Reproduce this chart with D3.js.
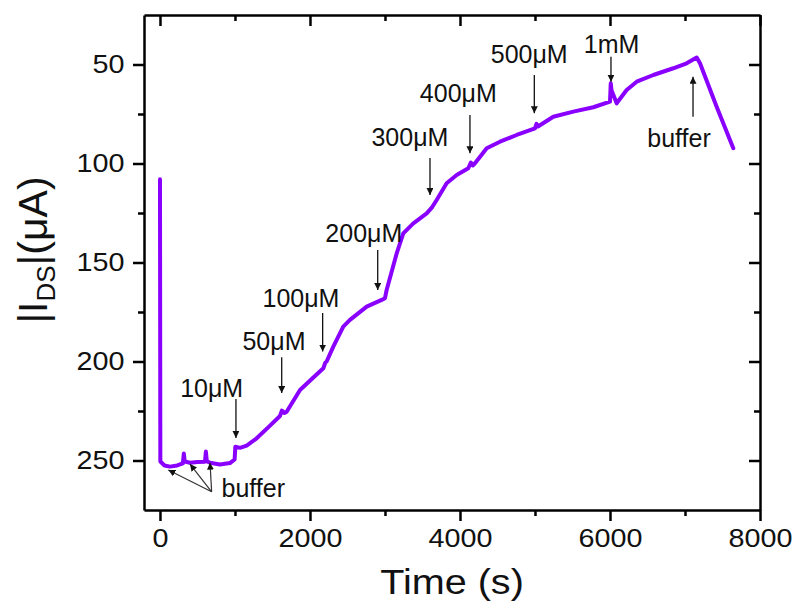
<!DOCTYPE html>
<html>
<head>
<meta charset="utf-8">
<script src="https://cdn.jsdelivr.net/npm/d3@7"></script>
<style>
  body { margin: 0; background: #fff; }
  text { font-family: "Liberation Sans", Arial, sans-serif; }
</style>
</head>
<body>
<svg id="chart" width="796" height="605"></svg>
<script>
// time (s) and |I_DS| (uA)
const times = [0, 5, 60, 133, 230, 305, 318, 330, 400, 500, 600, 612, 625, 667, 800, 933, 995, 1005,
  1067, 1156, 1289, 1450, 1600, 1625, 1660, 1689, 1867, 2020, 2178, 2205, 2222, 2311, 2444, 2533,
  2756, 2956, 3000, 3022, 3156, 3244, 3378, 3556, 3630, 3689, 3822, 3956, 4111, 4145, 4170, 4200,
  4356, 4533, 4756, 5000, 5020, 5040, 5244, 5511, 5778, 6000, 6010, 6020, 6089, 6222, 6356, 6578,
  6844, 7022, 7156, 7200, 7422, 7644];
const current = [108, 250.5, 252.5, 253.1, 252.5, 251.5, 246.5, 250.5, 251.1, 250.8, 250.6, 245.5, 250.5, 251.1, 252, 251.3, 249.5, 243,
  243.6, 242.5, 238.8, 233, 227.5, 224.8, 226, 225.4, 214.4, 209, 203.4, 200.5, 200, 192.5, 182.4, 179,
  172.3, 168.9, 168, 163.9, 145.4, 135.3, 130.2, 125.2, 122, 118.4, 110, 105.8, 102.4, 99.5, 101, 99.9,
  92.3, 89, 85.6, 82.2, 80, 81.3, 76.4, 73.8, 71.6, 68.8, 59.5, 63, 69.6, 62.9, 58.7, 55.3,
  51.9, 49.4, 46.5, 49.4, 71.3, 92.3];

const xTicks = [0, 2000, 4000, 6000, 8000];
const xMinor = [1000, 3000, 5000, 7000];
const yTicks = [50, 100, 150, 200, 250];
const yMinor = [75, 125, 175, 225];

// concentration labels: text, label pos (t, I), arrow tail -> tip (t, I)
const labels = ["10\u03bcM", "50\u03bcM", "100\u03bcM", "200\u03bcM", "300\u03bcM", "400\u03bcM", "500\u03bcM", "1mM", "buffer"];
const labelT = [689, 1520, 1880, 2718, 3333, 3978, 4923, 6022, 6920];
const labelI = [217.9, 194.2, 172.5, 139.6, 91.2, 68.8, 49.4, 44.3, 91.5];
const arrowT = [1013, 1623, 2169, 2903, 3600, 4133, 4991, 6013, 7107];
const arrowFrom = [218.9, 197.9, 175.5, 143.7, 97.2, 75.5, 55.3, 46.1, 76.4];
const arrowTo = [238.6, 215.9, 195, 163.9, 115.9, 94.8, 74.6, 58.7, 56.2];

// the first "buffer" note with three arrows
const bufT = 1244, bufI = 268.4;
const bufTailT = 689, bufTailI = 265.8;
const bufTipT = [111, 400, 667];
const bufTipI = [254.8, 251.8, 251.1];

const svg = d3.select("#chart");
const L = 144, R = 760, T = 15, B = 510;

const x = d3.scaleLinear().domain([-213, 8000]).range([L, R]);
const y = d3.scaleLinear().domain([25, 275]).range([T, B]);

svg.append("defs").append("marker")
    .attr("id", "head")
    .attr("viewBox", "0 0 10 10")
    .attr("refX", 10).attr("refY", 5)
    .attr("markerWidth", 7).attr("markerHeight", 7)
    .attr("markerUnits", "userSpaceOnUse")
    .attr("orient", "auto")
  .append("path")
    .attr("d", "M0,0 L10,5 L0,10 Z")
    .attr("fill", "#111");

function styleAxis(g) {
    g.selectAll(".domain").attr("stroke", "#000").attr("stroke-width", 2.5);
    g.selectAll(".tick line").attr("stroke", "#000").attr("stroke-width", 2.5);
}

const fmt = d3.format("d");

// bottom
let gb = svg.append("g").attr("transform", `translate(0,${B})`)
    .call(d3.axisBottom(x).tickValues(xTicks).tickFormat(fmt).tickSize(11).tickSizeOuter(0).tickPadding(8));
styleAxis(gb);
gb.selectAll(".tick text").attr("font-size", 25).attr("fill", "#111").attr("transform", "scale(1.15,1)");
let gbm = svg.append("g").attr("transform", `translate(0,${B})`)
    .call(d3.axisBottom(x).tickValues(xMinor).tickSize(6).tickFormat(""));
gbm.select(".domain").remove();
styleAxis(gbm);

// left
let gl = svg.append("g").attr("transform", `translate(${L},0)`)
    .call(d3.axisLeft(y).tickValues(yTicks).tickFormat(fmt).tickSize(11).tickSizeOuter(0).tickPadding(6));
styleAxis(gl);
gl.selectAll(".tick text").attr("font-size", 25).attr("fill", "#111").attr("transform", "scale(1.15,1)");
let glm = svg.append("g").attr("transform", `translate(${L},0)`)
    .call(d3.axisLeft(y).tickValues(yMinor).tickSize(6).tickFormat(""));
glm.select(".domain").remove();
styleAxis(glm);

// top (ticks inward)
let gt = svg.append("g").attr("transform", `translate(0,${T})`)
    .call(d3.axisTop(x).tickValues(xTicks).tickSize(-11).tickSizeOuter(0).tickFormat(""));
styleAxis(gt);
let gtm = svg.append("g").attr("transform", `translate(0,${T})`)
    .call(d3.axisTop(x).tickValues(xMinor).tickSize(-6).tickFormat(""));
gtm.select(".domain").remove();
styleAxis(gtm);

// right (ticks inward)
let gr = svg.append("g").attr("transform", `translate(${R},0)`)
    .call(d3.axisRight(y).tickValues(yTicks).tickSize(-11).tickSizeOuter(0).tickFormat(""));
styleAxis(gr);
let grm = svg.append("g").attr("transform", `translate(${R},0)`)
    .call(d3.axisRight(y).tickValues(yMinor).tickSize(-6).tickFormat(""));
grm.select(".domain").remove();
styleAxis(grm);

// trace
const pts = times.map((t, i) => [t, current[i]]);
svg.append("path")
    .datum(pts)
    .attr("fill", "none")
    .attr("stroke", "#8a00ff")
    .attr("stroke-width", 4)
    .attr("stroke-linejoin", "round")
    .attr("stroke-linecap", "round")
    .attr("d", d3.line().x(d => x(d[0])).y(d => y(d[1])));

// annotations
labels.forEach((txt, i) => {
    svg.append("line")
        .attr("x1", x(arrowT[i])).attr("y1", y(arrowFrom[i]))
        .attr("x2", x(arrowT[i])).attr("y2", y(arrowTo[i]))
        .attr("stroke", "#111").attr("stroke-width", 1.3)
        .attr("marker-end", "url(#head)");
    svg.append("text")
        .attr("x", x(labelT[i])).attr("y", y(labelI[i]))
        .attr("text-anchor", "middle")
        .attr("font-size", 25).attr("fill", "#111")
        .text(txt);
});

bufTipT.forEach((t, i) => {
    svg.append("line")
        .attr("x1", x(bufTailT)).attr("y1", y(bufTailI))
        .attr("x2", x(t)).attr("y2", y(bufTipI[i]))
        .attr("stroke", "#333").attr("stroke-width", 1.2)
        .attr("marker-end", "url(#head)");
});
svg.append("text")
    .attr("x", x(bufT)).attr("y", y(bufI))
    .attr("text-anchor", "middle")
    .attr("font-size", 25).attr("fill", "#111")
    .text("buffer");

// axis titles
svg.append("text")
    .attr("transform", `translate(${(L + R) / 2},594) scale(1.1,1)`)
    .attr("text-anchor", "middle")
    .attr("font-size", 36).attr("fill", "#111")
    .text("Time (s)");

let yl = svg.append("text")
    .attr("transform", "translate(47,250) rotate(-90)")
    .attr("text-anchor", "middle")
    .attr("font-size", 41).attr("fill", "#111");
yl.append("tspan").text("|I");
yl.append("tspan").attr("font-size", 26).attr("dy", 8).text("DS");
yl.append("tspan").attr("dy", -8).text("|(\u03bcA)");
</script>
</body>
</html>
